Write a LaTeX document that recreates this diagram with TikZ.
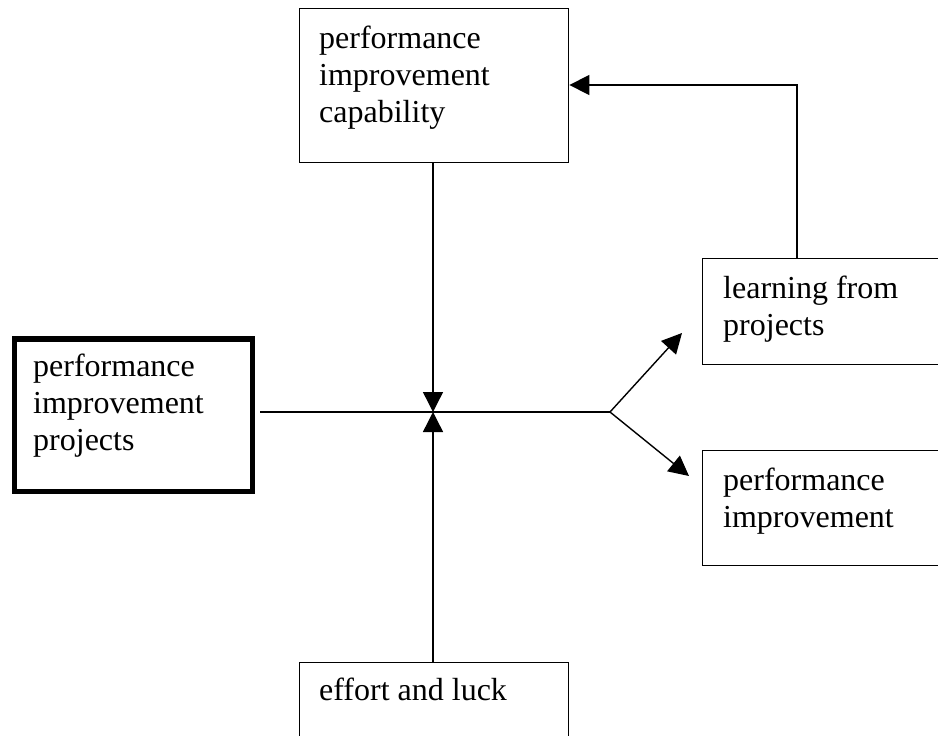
\documentclass[tikz,border=0pt]{standalone}
\usepackage{fontspec}
\setmainfont{Liberation Serif}
\usetikzlibrary{arrows.meta}
\begin{document}
\begin{tikzpicture}[x=1pt,y=-1pt,
  box/.style={draw,line width=1.4pt,inner sep=0pt,anchor=north west},
  thickbox/.style={draw,line width=5.5pt,inner sep=0pt,anchor=north west},
  txt/.style={anchor=base west,inner sep=0pt,font=\fontsize{32}{37}\selectfont},
  conn/.style={line width=1.4pt},
  arr/.style={line width=1.4pt,-{Triangle[length=20pt,width=20pt]}}]
\useasboundingbox (0,0) rectangle (938,736);
\clip (0,0) rectangle (938,736);
% boxes
\node[box,minimum width=269pt,minimum height=154pt] (cap) at (299,8) {};
\node[thickbox,minimum width=238pt,minimum height=152.5pt] (proj) at (11.5,336) {};
\node[box,minimum width=250pt,minimum height=106pt] (learn) at (702,258) {};
\node[box,minimum width=250pt,minimum height=115pt] (perf) at (702,450) {};
\node[box,minimum width=269pt,minimum height=100pt] (eff) at (299,662) {};
% texts
\node[txt] (c1) at (319,48) {performance};
\node[txt] (c2) at (319,85) {improvement};
\node[txt] (c3) at (319,122) {capability};
\node[txt] (p1) at (33,376) {performance};
\node[txt] (p2) at (33,413) {improvement};
\node[txt] (p3) at (33,450) {projects};
\node[txt] (l1) at (723,298) {learning from};
\node[txt] (l2) at (723,335) {projects};
\node[txt] (q1) at (723,490) {performance};
\node[txt] (q2) at (723,527) {improvement};
\node[txt] (e1) at (319,700) {effort and luck};
% coordinates
\coordinate (hs) at (260,412);
\coordinate (ctr) at (433,412);
\coordinate (sp) at (610,412);
\coordinate (up) at (682,333);
\coordinate (dn) at (689,476);
\coordinate (corner) at (797,85);
% connectors
\draw[conn] (hs) -- (sp);
\draw[arr] (cap.south -| ctr) -- (ctr);
\draw[arr] (eff.north -| ctr) -- (ctr);
\draw[arr] (sp) -- (up);
\draw[arr] (sp) -- (dn);
\draw[arr] (learn.north -| corner) -- (corner) -- (cap.east |- corner);
\end{tikzpicture}
\end{document}
